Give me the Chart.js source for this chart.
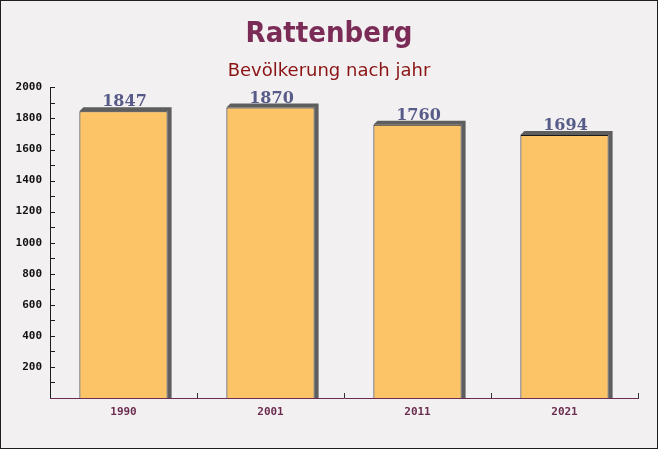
<!DOCTYPE html>
<html>
<head>
<meta charset="utf-8">
<script src="https://cdn.jsdelivr.net/npm/chart.js@4"></script>
<style>
  html, body { margin: 0; padding: 0; background: #fff; }
  #wrap {
    width: 658px; height: 449px; box-sizing: border-box;
    border: 1px solid #1e1e1e; background: #f3f0f2; position: relative;
  }
  canvas { display: block; }
</style>
</head>
<body>
<div id="wrap"><canvas id="chart" width="656" height="447"></canvas></div>
<script>
const years = ['1990', '2001', '2011', '2021'];
const population = [1847, 1870, 1760, 1694];
const yMin = 0;
const yMax = 2000;
const yStep = 100;
const yLabelStep = 200;

// 3D-Schatten und Beschriftungen der Balken
const barDecor = {
  id: 'barDecor',
  beforeDatasetsDraw(chart) {
    const ctx = chart.ctx;
    const meta = chart.getDatasetMeta(0);
    ctx.save();
    ctx.fillStyle = '#5e5e5e';
    meta.data.forEach(bar => {
      const half = bar.width / 2;
      const l = bar.x - half, r = bar.x + half;
      ctx.beginPath();
      ctx.moveTo(l, bar.y);
      ctx.lineTo(l + 4, bar.y - 4);
      ctx.lineTo(r + 4, bar.y - 4);
      ctx.lineTo(r + 4, bar.base);
      ctx.lineTo(r, bar.base);
      ctx.lineTo(r, bar.y);
      ctx.closePath();
      ctx.fill();
    });
    ctx.restore();
  },
  afterDatasetsDraw(chart) {
    const ctx = chart.ctx;
    const meta = chart.getDatasetMeta(0);
    ctx.save();
    ctx.font = 'bold 16px "DejaVu Serif", serif';
    ctx.fillStyle = '#575b87';
    ctx.textAlign = 'center';
    ctx.textBaseline = 'alphabetic';
    meta.data.forEach((bar, i) => {
      ctx.fillText(String(population[i]), bar.x + 1, bar.y - 5);
    });
    ctx.restore();
  },
  afterDraw(chart) {
    const ctx = chart.ctx;
    const a = chart.chartArea;
    const ys = chart.scales.y;
    const xs = chart.scales.x;
    ctx.save();
    ctx.lineWidth = 1;
    // y-Achse mit Strichen nach innen
    ctx.strokeStyle = '#1e1e1e';
    ctx.beginPath();
    ctx.moveTo(a.left + 0.5, a.top);
    ctx.lineTo(a.left + 0.5, a.bottom);
    for (let v = yMin + yStep; v <= yMax; v += yStep) {
      const py = Math.round(ys.getPixelForValue(v)) + 0.5;
      ctx.moveTo(a.left, py);
      ctx.lineTo(a.left + 5, py);
    }
    ctx.stroke();
    // x-Achse
    ctx.strokeStyle = '#6b2d4f';
    ctx.beginPath();
    ctx.moveTo(a.left, a.bottom + 0.5);
    ctx.lineTo(a.right + 1, a.bottom + 0.5);
    ctx.stroke();
    ctx.strokeStyle = '#333';
    ctx.beginPath();
    const w = xs.getPixelForValue(1) - xs.getPixelForValue(0);
    for (let i = 0; i < years.length; i++) {
      const px = Math.round(xs.getPixelForValue(i) + w / 2) + 0.5;
      ctx.moveTo(px, a.bottom);
      ctx.lineTo(px, a.bottom - 5);
    }
    ctx.stroke();
    ctx.restore();
  }
};

new Chart(document.getElementById('chart'), {
  type: 'bar',
  data: {
    labels: years,
    datasets: [{
      data: population,
      backgroundColor: 'rgba(253, 192, 90, 0.92)',
      borderColor: '#1a1a1a',
      borderWidth: 1,
      barPercentage: 0.6,
      categoryPercentage: 1.0
    }]
  },
  plugins: [barDecor],
  options: {
    responsive: false,
    animation: false,
    layout: { padding: 0 },
    plugins: {
      legend: { display: false },
      tooltip: { enabled: false },
      title: {
        display: true,
        text: 'Rattenberg',
        color: '#7a2c57',
        font: { family: '"DejaVu Sans Condensed", "DejaVu Sans", sans-serif', size: 29, weight: 'bold' },
        padding: { top: 16, bottom: 9 }
      },
      subtitle: {
        display: true,
        text: 'Bevölkerung nach jahr',
        color: '#8a1414',
        font: { family: '"DejaVu Sans", sans-serif', size: 18 },
        padding: { top: 0, bottom: 5 }
      }
    },
    scales: {
      x: {
        grid: { display: false, drawTicks: false },
        border: { display: false },
        ticks: {
          color: '#6b2d4f',
          padding: 8,
          font: { family: '"DejaVu Sans Mono", monospace', size: 11, weight: 'bold' }
        },
        afterFit(scale) { scale.height = 50; }
      },
      y: {
        min: yMin,
        max: yMax,
        grid: { display: false, drawTicks: false },
        border: { display: false },
        ticks: {
          stepSize: yStep,
          autoSkip: false,
          color: '#111',
          padding: 8,
          font: { family: '"DejaVu Sans Mono", monospace', size: 11, weight: 'bold' },
          callback: v => (v % yLabelStep === 0 && v > 0) ? v : ''
        },
        afterFit(scale) { scale.width = 49; }
      },
      yRight: {
        position: 'right',
        min: yMin,
        max: yMax,
        grid: { display: false, drawTicks: false },
        border: { display: false },
        ticks: { display: false },
        afterFit(scale) { scale.width = 19; }
      }
    }
  }
});
</script>
</body>
</html>
